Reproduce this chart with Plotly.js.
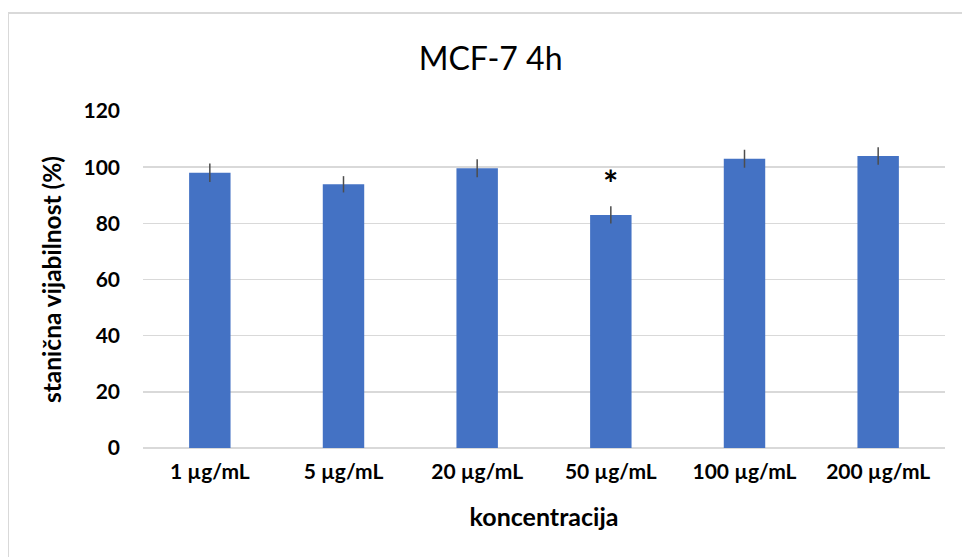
<!DOCTYPE html>
<html>
<head>
<meta charset="utf-8">
<script src="https://cdn.plot.ly/plotly-3.0.1.min.js"></script>
<style>
html,body{margin:0;padding:0;background:#fff;}
#wrap{position:absolute;left:0;top:0;width:962px;height:557px;overflow:hidden;}
#frame{position:absolute;left:8px;top:12px;width:980px;height:600px;border-left:1px solid #d9d9d9;border-top:2px solid #d9d9d9;}
#chart{position:absolute;left:0;top:0;width:962px;height:557px;}
</style>
</head>
<body>
<div id="wrap">
<div id="frame"></div>
<div id="chart"></div>
</div>
<script>
var categories = ["1 µg/mL", "5 µg/mL", "20 µg/mL", "50 µg/mL", "100 µg/mL", "200 µg/mL"];
var viability = [98.0, 93.9, 99.6, 83.0, 103.0, 104.0];
var errors = [3.3, 2.9, 3.2, 3.1, 3.2, 3.1];
var markText = "*";
var markCategory = "50 µg/mL";
var markY = 94.5;
var yTicks = [0, 20, 40, 60, 80, 100, 120];

var font = "Lato, 'Open Sans', sans-serif";

var trace = {
  type: "bar",
  x: categories,
  y: viability,
  marker: {color: "#4472C4"},
  error_y: {type: "data", array: errors, visible: true, color: "#4d4d4d", thickness: 1.5, width: 0},
  hoverinfo: "x+y"
};

var layout = {
  width: 962, height: 557,
  paper_bgcolor: "rgba(0,0,0,0)",
  plot_bgcolor: "rgba(0,0,0,0)",
  margin: {l: 143, r: 17, t: 111, b: 109},
  bargap: 0.69,
  showlegend: false,
  title: {text: "MCF-7 4h", font: {family: font, size: 32, color: "#000"}, x: 0.51, xanchor: "center", y: 0.895, yanchor: "middle"},
  xaxis: {
    type: "category",
    tickfont: {family: font, size: 21, color: "#000", weight: "bold"},
    ticks: "", showline: false, showgrid: false, zeroline: false,
    ticklabelstandoff: 9,
    title: {text: "koncentracija", font: {family: font, size: 25, color: "#000", weight: "bold"}, standoff: 26}
  },
  yaxis: {
    range: [0, 120],
    tickvals: yTicks,
    tickfont: {family: font, size: 21, color: "#000", weight: "bold"},
    ticks: "",
    ticklabelstandoff: 22,
    showgrid: true, gridcolor: "#d9d9d9", gridwidth: 1.5,
    zeroline: true, zerolinecolor: "#d9d9d9", zerolinewidth: 1.5,
    showline: false,
    title: {text: "stanična vijabilnost (%)", font: {family: font, size: 24.5, color: "#000", weight: "bold"}, standoff: 14}
  },
  annotations: [{
    x: markCategory, y: markY, xref: "x", yref: "y",
    text: markText, showarrow: false,
    font: {family: font, size: 36, color: "#000", weight: "bold"}
  }]
};

Plotly.newPlot("chart", [trace], layout, {displayModeBar: false, staticPlot: true});
</script>
</body>
</html>
